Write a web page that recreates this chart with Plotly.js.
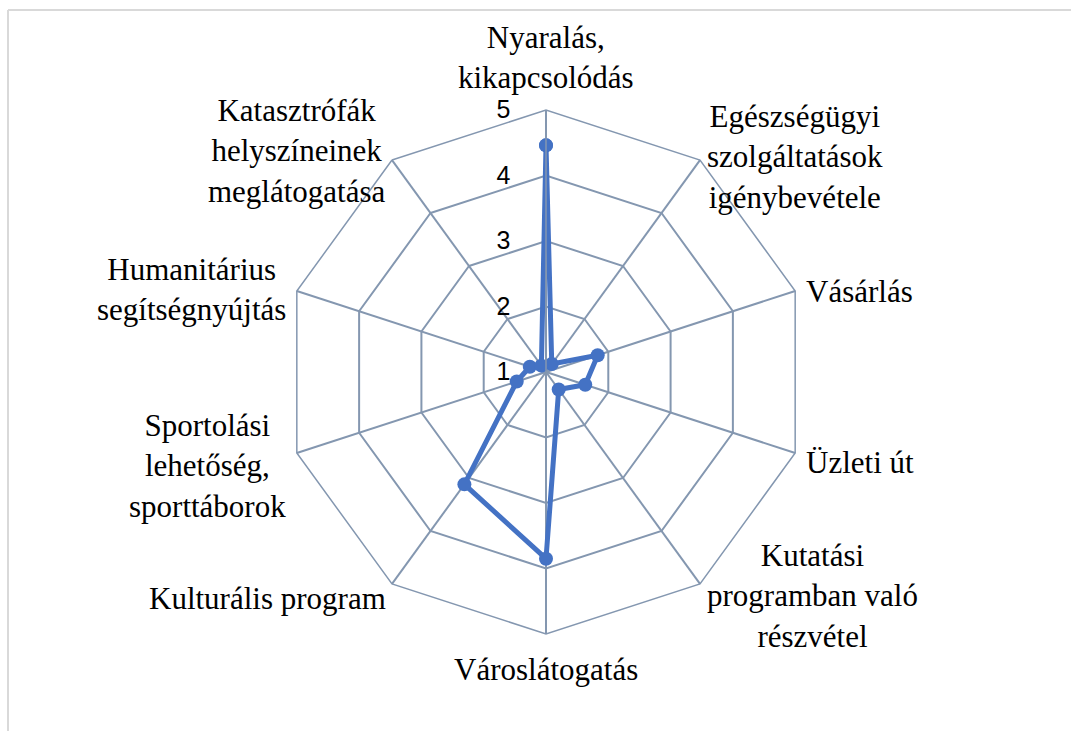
<!DOCTYPE html>
<html>
<head>
<meta charset="utf-8">
<script src="https://cdn.plot.ly/plotly-3.0.1.min.js"></script>
<style>
  html, body { margin: 0; padding: 0; background: #ffffff; }
  #chart { width: 1071px; height: 731px; }
</style>
</head>
<body>
<div id="chart"></div>
<script>
// Categories (clockwise from top)
const categories = [
  "Nyaralás,<br>kikapcsolódás",
  "Egészségügyi<br>szolgáltatások<br>igénybevétele",
  "Vásárlás",
  "Üzleti út",
  "Kutatási<br>programban való<br>részvétel",
  "Városlátogatás",
  "Kulturális program",
  "Sportolási<br>lehetőség,<br>sporttáborok",
  "Humanitárius<br>segítségnyújtás",
  "Katasztrófák<br>helyszíneinek<br>meglátogatása"
];
// Series values
const values = [4.46, 1.15, 1.83, 1.63, 1.33, 3.85, 3.12, 1.47, 1.26, 1.12];
// Radial tick values
const radialTicks = [1, 2, 3, 4, 5];

// Label placement (pixels in the 1071x731 figure) - layout only
const W = 1071, H = 731;
const labelPlacement = [
  { x: 546, y: 97,  xa: "center", ya: "bottom" },
  { x: 705, y: 157, xa: "left",   ya: "middle" },
  { x: 804, y: 292, xa: "left",   ya: "middle" },
  { x: 804, y: 462, xa: "left",   ya: "middle" },
  { x: 705, y: 596, xa: "left",   ya: "middle" },
  { x: 546, y: 650, xa: "center", ya: "top" },
  { x: 388, y: 598, xa: "right",  ya: "middle" },
  { x: 288, y: 466, xa: "right",  ya: "middle" },
  { x: 288, y: 289, xa: "right",  ya: "middle" },
  { x: 388, y: 151, xa: "right",  ya: "middle" }
];

const gridColor = "#8497b0";
const serif = "Liberation Serif";

const trace = {
  type: "scatterpolar",
  mode: "lines+markers",
  r: values.concat([values[0]]),
  theta: categories.concat([categories[0]]),
  line: { color: "#4472c4", width: 5 },
  marker: { color: "#4472c4", size: 14 },
  cliponaxis: false,
  hoverinfo: "r+theta"
};

const annotations = categories.map((c, i) => ({
  text: c,
  xref: "paper", yref: "paper",
  x: labelPlacement[i].x / W,
  y: 1 - labelPlacement[i].y / H,
  xanchor: labelPlacement[i].xa,
  yanchor: labelPlacement[i].ya,
  align: "center",
  showarrow: false,
  font: { family: serif, size: 31, color: "#000000" }
}));

const layout = {
  width: W,
  height: H,
  margin: { l: 0, r: 0, t: 0, b: 0 },
  paper_bgcolor: "#ffffff",
  font: { family: serif },
  showlegend: false,
  polar: {
    domain: { x: [284 / W, 808 / W], y: [1 - 634 / H, 1 - 110 / H] },
    bgcolor: "rgba(0,0,0,0)",
    gridshape: "linear",
    angularaxis: {
      type: "category",
      categoryarray: categories,
      direction: "clockwise",
      rotation: 90,
      showline: true,
      linecolor: gridColor,
      linewidth: 1.5,
      gridcolor: gridColor,
      gridwidth: 1.5,
      ticks: "",
      showticklabels: false
    },
    radialaxis: {
      range: [1, 5],
      tickvals: radialTicks,
      ticktext: radialTicks.map(String),
      angle: 90,
      side: "counterclockwise",
      tickangle: 90,
      showline: true,
      linecolor: gridColor,
      linewidth: 1.5,
      gridcolor: gridColor,
      gridwidth: 1.5,
      ticks: "outside",
      ticklen: 26,
      tickcolor: "rgba(0,0,0,0)",
      tickfont: { family: "Liberation Sans", size: 25, color: "#000000" }
    }
  },
  annotations: annotations,
  shapes: [
    { type: "line", xref: "paper", yref: "paper", x0: 8 / W, x1: 1, y0: 1 - 10 / H, y1: 1 - 10 / H,
      line: { color: "#d9d9d9", width: 2 } },
    { type: "line", xref: "paper", yref: "paper", x0: 8 / W, x1: 8 / W, y0: 0, y1: 1 - 10 / H,
      line: { color: "#d9d9d9", width: 2 } }
  ]
};

Plotly.newPlot("chart", [trace], layout, { displayModeBar: false });
</script>
</body>
</html>
